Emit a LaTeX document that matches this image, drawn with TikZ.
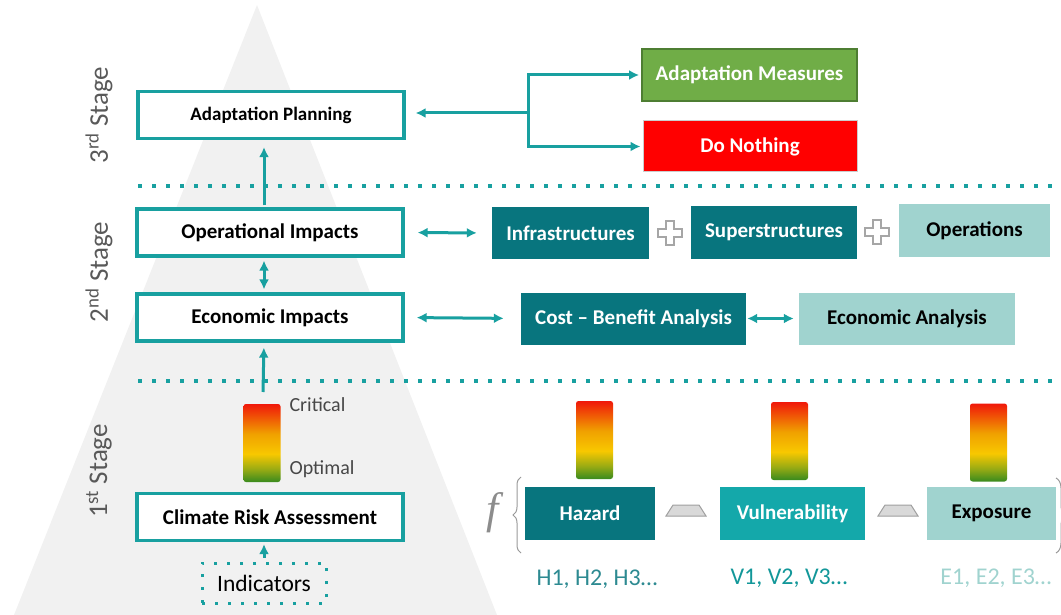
\documentclass[tikz,border=0pt]{standalone}
\usepackage{fontspec}
\setmainfont{Carlito}
\newfontfamily\funcfont{Liberation Serif}
\usetikzlibrary{arrows.meta,decorations.pathreplacing}
\definecolor{tealline}{RGB}{24,160,160}
\definecolor{darkteal}{RGB}{8,117,126}
\definecolor{midteal}{RGB}{20,168,170}
\definecolor{lightteal}{RGB}{160,211,207}
\definecolor{pyramidgray}{RGB}{241,241,241}
\definecolor{stagegray}{RGB}{89,89,89}
\definecolor{measuregreen}{RGB}{112,173,71}
\definecolor{measureedge}{RGB}{78,126,50}
\definecolor{nothingred}{RGB}{255,0,0}
\definecolor{barr}{RGB}{240,24,10}
\definecolor{baro}{RGB}{240,160,0}
\definecolor{bary}{RGB}{248,200,0}
\definecolor{barlg}{RGB}{150,170,20}
\definecolor{barg}{RGB}{56,138,30}
\pgfdeclareverticalshading{riskshade}{100bp}{color(0bp)=(barg); color(25bp)=(barg); color(33bp)=(barlg); color(43bp)=(bary); color(56bp)=(baro); color(75bp)=(barr); color(100bp)=(barr)}
\tikzset{
  stagebox/.style={draw=tealline, line width=3.2pt, fill=white, minimum width=266pt, minimum height=47pt, font=\bfseries\fontsize{21}{24}\selectfont},
  darkbox/.style={fill=darkteal, text=white, minimum height=52pt, font=\bfseries\fontsize{21}{24}\selectfont},
  midbox/.style={darkbox, fill=midteal},
  lightbox/.style={darkbox, fill=lightteal, text=black},
  link/.style={draw=tealline, line width=3pt, -{Latex[length=10pt,width=10pt]}},
  twoway/.style={link, {Latex[length=10pt,width=10pt]}-{Latex[length=10pt,width=10pt]}},
  stageline/.style={draw=tealline, line width=3.5pt, dash pattern=on 3.5pt off 10.5pt},
  stagelabel/.style={rotate=90, text=stagegray, font=\fontsize{27}{30}\selectfont},
  barnode/.style={shading=riskshade, rounded corners=2.5pt, minimum width=37pt, minimum height=78pt, inner sep=0pt},
  gaugelabel/.style={anchor=west, text=stagegray!80!black, font=\fontsize{20}{23}\selectfont},
  indexlabel/.style={font=\fontsize{24}{27}\selectfont},
  operator/.pic={\draw[fill=gray!30, draw=gray!75, line width=1pt] (-20,5.5) -- (20,5.5) -- (13,-5.5) -- (-13,-5.5) -- cycle;},
  plussign/.pic={\draw[gray!70, fill=white, line width=1.3pt] (-4,-12) -- (4,-12) -- (4,-4) -- (12,-4) -- (12,4) -- (4,4) -- (4,12) -- (-4,12) -- (-4,4) -- (-12,4) -- (-12,-4) -- (-4,-4) -- cycle;}
}
\begin{document}
\begin{tikzpicture}[x=1pt,y=-1pt]
\useasboundingbox (0,0) rectangle (1061,615);
\clip (0,0) rectangle (1061,615);
\fill[pyramidgray] (257,5) -- (497,615) -- (14,615) -- cycle;
% stage separators
\draw[stageline] (138,186) -- (1061,186);
\draw[stageline] (138,381) -- (1061,381);
\node[stagelabel] (s3) at (99,115) {3\textsuperscript{rd} Stage};
\node[stagelabel] (s2) at (99,272) {2\textsuperscript{nd} Stage};
\node[stagelabel] (s1) at (99,471) {1\textsuperscript{st} Stage};
% left column
\node[stagebox, font=\bfseries\fontsize{19}{22}\selectfont] (ap) at (271,115) {Adaptation Planning};
\node[stagebox] (op) at (270,232.5) {Operational Impacts};
\node[stagebox] (econ) at (270,317.5) {Economic Impacts};
\node[stagebox] (cra) at (270,517) {Climate Risk Assessment};
\node[draw=tealline, line width=3pt, dash pattern=on 3pt off 10pt, minimum width=124pt, minimum height=40pt, font=\fontsize{23.5}{26}\selectfont] (ind) at (264,583) {Indicators};
\node[barnode] (gauge) at (262,443) {};
\node[gaugelabel] (crit) at (286,405) {Critical};
\node[gaugelabel] (optim) at (286,469) {Optimal};
\coordinate (rise) at (263,392);
\draw[link, shorten >=7pt, shorten <=2pt] (op.north -| ind) -- (ap.south -| ind);
\draw[twoway, shorten >=3pt, shorten <=3pt] (op.south -| ind) -- (econ.north -| ind);
\draw[link, shorten >=5pt] (rise) -- (econ.south -| ind);
\draw[link, shorten >=2pt, shorten <=4pt] (ind.north) -- (cra.south -| ind);
% 3rd stage options
\node[fill=measuregreen, draw=measureedge, line width=1.8pt, text=white, minimum width=215pt, minimum height=52pt, font=\bfseries\fontsize{21}{24}\selectfont] (am) at (749.5,75) {Adaptation Measures};
\node[fill=nothingred, draw=gray!40, line width=1pt, text=white, minimum width=214pt, minimum height=51pt, font=\bfseries\fontsize{21}{24}\selectfont] (dn) at (750,146.5) {Do Nothing};
\coordinate (split) at (528,113);
\draw[link, shorten >=10pt] (split) -- (ap.east |- split);
\draw[link, shorten >=2pt] (split) |- (am.west);
\draw[link, shorten >=2pt] (split) |- (dn.west);
% 2nd stage
\node[darkbox, minimum width=157pt] (infra) at (570.5,233) {Infrastructures};
\node[darkbox, minimum width=166pt] (sup) at (774,232.5) {Superstructures};
\node[lightbox, minimum width=151pt] (oper) at (974.5,230.5) {Operations};
\node[darkbox, minimum width=225pt] (cba) at (633.5,318.5) {Cost -- Benefit Analysis};
\node[lightbox, minimum width=216pt] (ea) at (907,318.5) {Economic Analysis};
\pic at (670,233) {plussign};
\pic at (877,232) {plussign};
\draw[twoway, shorten <=13pt, shorten >=15pt] (op.east) -- (infra.west);
\draw[twoway, shorten <=12pt, shorten >=17pt] (econ.east) -- (cba.west);
\draw[twoway, shorten <=1pt, shorten >=5pt] (cba.east) -- (ea.west);
% 1st stage factors
\node[darkbox, minimum width=130pt, minimum height=53pt] (haz) at (590,513.5) {Hazard};
\node[midbox, minimum width=145pt, minimum height=53pt] (vul) at (792.5,513.5) {Vulnerability};
\node[lightbox, minimum width=129pt, minimum height=53pt] (expo) at (991.5,513.5) {Exposure};
\node[barnode] (gaugeH) at (594.5,440) {};
\node[barnode] (gaugeV) at (789.5,441) {};
\node[barnode] (gaugeE) at (988.5,442.5) {};
\pic at (686,510.5) {operator};
\pic at (898,510.5) {operator};
\node[indexlabel, text=darkteal!85!white] (hidx) at (597,579) {H1, H2, H3…};
\node[indexlabel, text=midteal!90!black] (vidx) at (789,578) {V1, V2, V3…};
\node[indexlabel, text=lightteal] (eidx) at (996,578) {E1, E2, E3…};
\coordinate (bl1) at (521,553);
\coordinate (bl2) at (521,477);
\coordinate (br1) at (1056,478);
\coordinate (br2) at (1056,553);
\draw[gray!80, line width=1pt, decorate, decoration={brace, amplitude=8pt}] (bl1) -- (bl2);
\draw[gray!80, line width=1pt, decorate, decoration={brace, amplitude=10pt}] (br1) -- (br2);
\node[text=gray!90, font=\funcfont\itshape\fontsize{44}{46}\selectfont] (fsym) at (493,513) {f};
\end{tikzpicture}
\end{document}
